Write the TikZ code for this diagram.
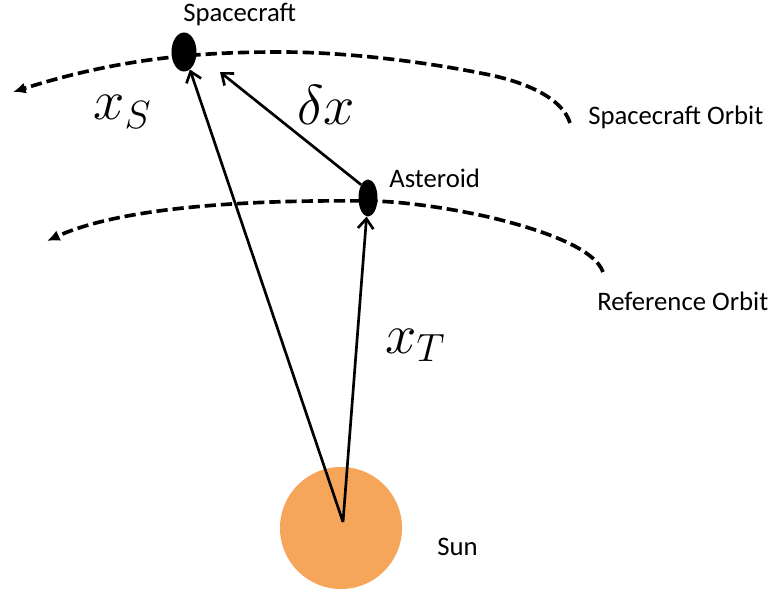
\RequirePackage{fix-cm}
\documentclass[tikz,border=0pt]{standalone}
\usepackage{fontspec}
\setmainfont{Carlito}
\usetikzlibrary{arrows.meta,shapes.geometric}
\definecolor{sunorange}{HTML}{F6A65A}
\tikzset{
  body/.style={ellipse,fill=black,inner sep=0pt},
  vec/.style={-{Straight Barb[length=7pt,width=11pt]},line width=1.9pt},
  orbit/.style={-{Latex[length=9pt,width=8pt]},line width=2.6pt,dash pattern=on 8pt off 3.5pt},
  lbl/.style={font=\fontsize{19}{23}\selectfont,inner sep=0pt},
  sym/.style={font=\fontsize{40}{46}\selectfont,inner sep=0pt},
}

\begin{document}
\begin{tikzpicture}[x=0.025cm,y=-0.025cm]
  \useasboundingbox (0,0) rectangle (776,597);
  % orbits
  \draw[orbit] (570,123) .. controls (563,100) and (530,82) .. (480,73)
    .. controls (430,63) and (350,52) .. (280,52)
    .. controls (200,52) and (120,58) .. (13,92);
  \draw[orbit] (603,272) .. controls (595,250) and (550,232) .. (493,218)
    .. controls (450,208) and (400,201) .. (368,201)
    .. controls (280,200) and (130,203) .. (47,241);
  % bodies
  \node[circle,fill=sunorange,minimum size=3.05cm,inner sep=0pt] (sun) at (341,528) {};
  \coordinate (sunc) at (343,522);
  \node[body,minimum width=0.625cm,minimum height=0.975cm] (sc) at (184,52) {};
  \node[body,minimum width=0.475cm,minimum height=0.925cm] (ast) at (368,198) {};
  \coordinate (dxtip) at (220,72);
  % vectors
  \draw[vec] (sunc) -- (sc);
  \draw[vec] (sunc) -- (ast);
  \draw[vec] (ast.north west) -- (dxtip);
  % labels
  \node[lbl,anchor=base west] (sclbl) at (183,22) {Spacecraft};
  \node[lbl,anchor=base west] (scorb) at (588,125) {Spacecraft Orbit};
  \node[lbl,anchor=base west] (astlbl) at (389,188) {Asteroid};
  \node[lbl,anchor=base west] (reforb) at (597,310) {Reference Orbit};
  \node[lbl,anchor=base west] (sunlbl) at (437,555) {Sun};
  \node[sym,anchor=base west] (xs) at (93,120) {$x_S$};
  \node[sym,anchor=base west] (dx) at (297,125) {$\delta x$};
  \node[sym,anchor=base west] (xt) at (385,353) {$x_T$};
\end{tikzpicture}
\end{document}
